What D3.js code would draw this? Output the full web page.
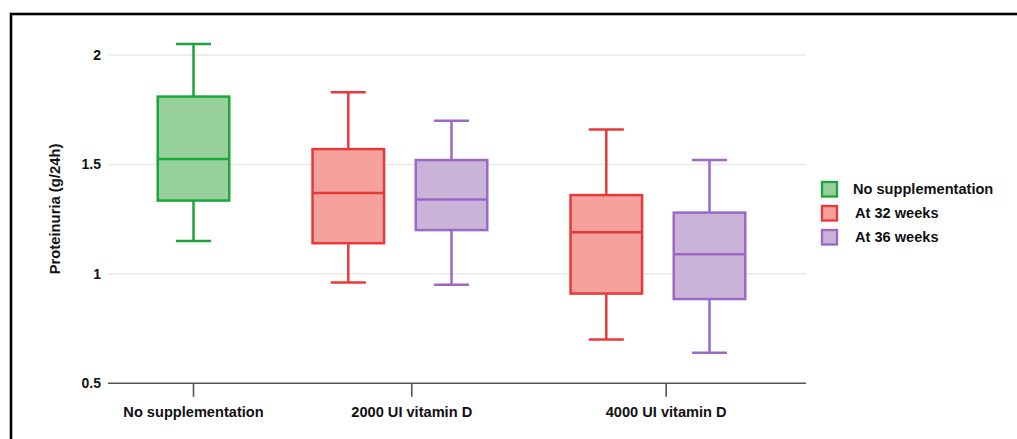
<!DOCTYPE html>
<html>
<head>
<meta charset="utf-8">
<script src="https://cdn.jsdelivr.net/npm/d3@7"></script>
<style>
  html, body { margin: 0; padding: 0; background: #fff; }
  svg { display: block; font-family: "Liberation Sans", Arial, sans-serif; }
</style>
</head>
<body>
<svg id="chart" width="1017" height="439"></svg>
<script>
// Treatment groups on the x axis
const categories = ["No supplementation", "2000 UI vitamin D", "4000 UI vitamin D"];
// Legend series
const seriesNames = ["No supplementation", "At 32 weeks", "At 36 weeks"];
// Y axis tick values
const yTicks = [0.5, 1, 1.5, 2];
const yTickLabels = ["0.5", "1", "1.5", "2"];

// One entry per box
const boxCategory = [0, 1, 1, 2, 2];
const boxSeries   = [0, 1, 2, 1, 2];
const whiskerLow  = [1.15, 0.96, 0.95, 0.70, 0.64];
const q1          = [1.335, 1.14, 1.20, 0.91, 0.885];
const median      = [1.525, 1.37, 1.34, 1.19, 1.09];
const q3          = [1.81, 1.57, 1.52, 1.36, 1.28];
const whiskerHigh = [2.05, 1.83, 1.70, 1.66, 1.52];

// Layout: slot units along the x axis
const boxSlot = [0, 3, 5, 8, 10];
const tickSlot = [0, 4.23, 9.16];
const boxWidthSlots = 1.386;
const capWidthSlots = 0.68;

const strokeColors = ["#1ca53a", "#e8393a", "#9b69c4"];
const fillColors   = ["#97d09b", "#f5a19c", "#cab3d9"];

const svg = d3.select("#chart");

// Outer frame (top and left edges visible)
svg.append("rect")
  .attr("x", 11).attr("y", 14)
  .attr("width", 1100).attr("height", 600)
  .attr("fill", "none").attr("stroke", "#000").attr("stroke-width", 2.6);

const x = d3.scaleLinear().domain([-1.657, 11.87]).range([108, 806]);
const y = d3.scaleLinear().domain([0.5, 2]).range([383.3, 55]);

// Horizontal gridlines
svg.append("g").selectAll("line")
  .data(yTicks.filter(v => v > 0.5))
  .join("line")
  .attr("x1", x.range()[0]).attr("x2", x.range()[1])
  .attr("y1", d => y(d)).attr("y2", d => y(d))
  .attr("stroke", "#e9e9e9").attr("stroke-width", 1.5);

// Y tick labels
svg.append("g").selectAll("text")
  .data(yTicks)
  .join("text")
  .attr("x", 101)
  .attr("y", d => y(d))
  .attr("dy", "0.36em")
  .attr("text-anchor", "end")
  .attr("font-size", 14)
  .attr("font-weight", "bold")
  .attr("fill", "#111")
  .text((d, i) => yTickLabels[i]);

// Y axis title
svg.append("text")
  .attr("transform", "translate(60,209) rotate(-90)")
  .attr("text-anchor", "middle")
  .attr("font-size", 14.8)
  .attr("font-weight", "bold")
  .attr("fill", "#111")
  .text("Proteinuria (g/24h)");

// X axis line and ticks
const xAxis = svg.append("g");
xAxis.append("line")
  .attr("x1", x.range()[0]).attr("x2", x.range()[1])
  .attr("y1", y(0.5)).attr("y2", y(0.5))
  .attr("stroke", "#555").attr("stroke-width", 1.6);
xAxis.selectAll(".tick")
  .data(categories)
  .join("line")
  .attr("class", "tick")
  .attr("x1", (d, i) => x(tickSlot[i])).attr("x2", (d, i) => x(tickSlot[i]))
  .attr("y1", y(0.5)).attr("y2", y(0.5) + 13.5)
  .attr("stroke", "#555").attr("stroke-width", 1.6);
xAxis.selectAll(".lbl")
  .data(categories)
  .join("text")
  .attr("class", "lbl")
  .attr("x", (d, i) => x(tickSlot[i]))
  .attr("y", 416.5)
  .attr("text-anchor", "middle")
  .attr("font-size", 14.6)
  .attr("font-weight", "bold")
  .attr("fill", "#111")
  .text(d => d);

// Boxes
const boxes = boxCategory.map((c, i) => ({
  c, s: boxSeries[i], slot: boxSlot[i],
  lo: whiskerLow[i], q1: q1[i], med: median[i], q3: q3[i], hi: whiskerHigh[i]
}));
const slotPx = x(1) - x(0);
const bw = boxWidthSlots * slotPx;
const cw = capWidthSlots * slotPx;

const g = svg.append("g").selectAll("g")
  .data(boxes)
  .join("g")
  .attr("stroke", d => strokeColors[d.s])
  .attr("stroke-width", 2.5)
  .attr("fill", "none");

// Whisker stems
g.append("line")
  .attr("x1", d => x(d.slot)).attr("x2", d => x(d.slot))
  .attr("y1", d => y(d.hi)).attr("y2", d => y(d.q3));
g.append("line")
  .attr("x1", d => x(d.slot)).attr("x2", d => x(d.slot))
  .attr("y1", d => y(d.q1)).attr("y2", d => y(d.lo));
// Whisker caps
g.append("line")
  .attr("x1", d => x(d.slot) - cw / 2).attr("x2", d => x(d.slot) + cw / 2)
  .attr("y1", d => y(d.hi)).attr("y2", d => y(d.hi));
g.append("line")
  .attr("x1", d => x(d.slot) - cw / 2).attr("x2", d => x(d.slot) + cw / 2)
  .attr("y1", d => y(d.lo)).attr("y2", d => y(d.lo));
// Interquartile box
g.append("rect")
  .attr("x", d => x(d.slot) - bw / 2)
  .attr("width", bw)
  .attr("y", d => y(d.q3))
  .attr("height", d => y(d.q1) - y(d.q3))
  .attr("fill", d => fillColors[d.s]);
// Median
g.append("line")
  .attr("x1", d => x(d.slot) - bw / 2).attr("x2", d => x(d.slot) + bw / 2)
  .attr("y1", d => y(d.med)).attr("y2", d => y(d.med));

// Legend
const legend = svg.append("g").selectAll("g")
  .data(seriesNames)
  .join("g")
  .attr("transform", (d, i) => `translate(821,${181 + i * 24})`);
legend.append("rect")
  .attr("x", 1).attr("y", 1)
  .attr("width", 15).attr("height", 14.5)
  .attr("fill", (d, i) => fillColors[i])
  .attr("stroke", (d, i) => strokeColors[i])
  .attr("stroke-width", 2.3);
legend.append("text")
  .attr("x", (d, i) => i === 0 ? 32 : 34)
  .attr("y", 8)
  .attr("dy", "0.36em")
  .attr("font-size", 14.6)
  .attr("font-weight", "bold")
  .attr("fill", "#111")
  .text(d => d);
</script>
</body>
</html>
